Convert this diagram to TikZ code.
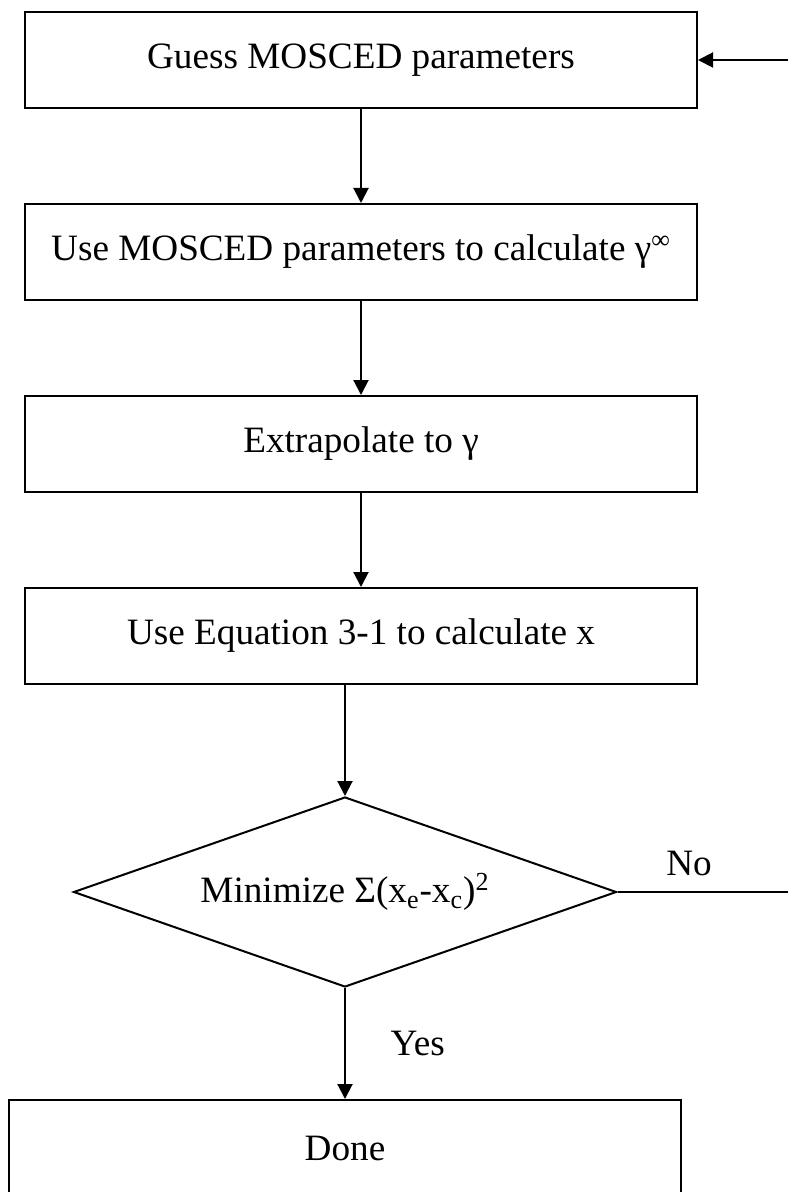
\documentclass[tikz,border=0pt]{standalone}
\usepackage{fontspec}
\setmainfont{Liberation Serif}
\usepackage{tikz}
\usetikzlibrary{shapes.geometric, arrows.meta}

\begin{document}
\begin{tikzpicture}[->,>={Triangle[width=7.5pt,length=7.5pt]},x=0.5pt,y=-0.5pt,
                    line width=1pt]
\tikzstyle{box}=[draw=black,rectangle,minimum width=336pt,minimum height=48pt,inner sep=0pt]
\tikzstyle{test}=[draw=black,diamond,aspect=2.86,minimum width=271.5pt,minimum height=95pt,inner sep=0pt]
\tikzset{font=\fontsize{18.6pt}{22}\selectfont}

        \clip (0,0) rectangle (788,1192);

        \node[box]     (guess)  at (361,60)   {Guess MOSCED parameters};
        \node[box]     (calc)   at (361,252)  {Use MOSCED parameters to calculate γ\textsuperscript{∞}};
        \node[box]     (extra)  at (361,444)  {Extrapolate to γ};
        \node[box]     (eqn)    at (361,636)  {Use Equation 3-1 to calculate x};
        \node[test]    (min)    at (345,892)  {Minimize Σ(x\textsubscript{e}-x\textsubscript{c})\textsuperscript{2}};
        \node[box]     (done)   at (345,1148) {Done};

        \coordinate (noend)   at (788,892);
        \coordinate (backend) at (788,60);

        \path[->]
        (guess) edge node {}  (calc)
        (calc)  edge node {}  (extra)
        (extra) edge node {}  (eqn)
        ; %end path

        \draw[->] (eqn.south -| min.north) -- (min.north);
        \draw[->] (min.south) -- node[right=19pt] {Yes} (done.north);
        \draw[-] (min.east) -- node[pos=0.42,above=4pt] {No} (noend);
        \draw[->] (backend) -- (guess.east);

\end{tikzpicture}
\end{document}
